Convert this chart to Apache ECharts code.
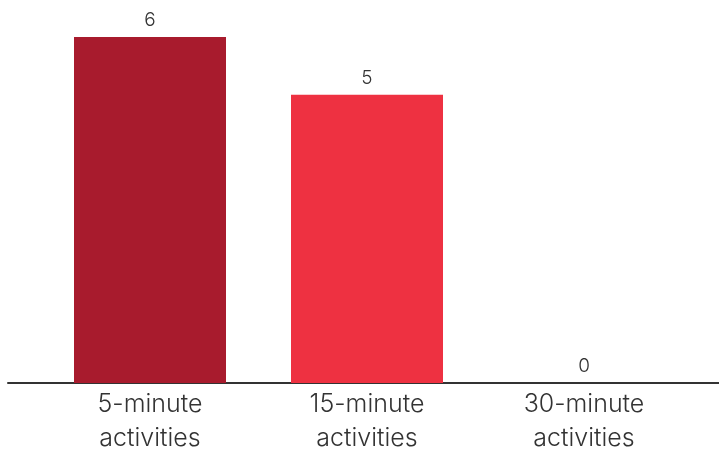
<!DOCTYPE html>
<html>
<head>
<meta charset="utf-8">
<script src="https://cdn.jsdelivr.net/npm/echarts@6/dist/echarts.min.js"></script>
<style>
  html, body { margin: 0; padding: 0; background: #ffffff; }
  #chart { width: 719px; height: 450px; }
</style>
</head>
<body>
<div id="chart"></div>
<script>
// Activity lengths and how many of each were counted
const categories = ['5-minute\nactivities', '15-minute\nactivities', '30-minute\nactivities'];
const counts = [6, 5, 0];
const barColors = ['#a81b2d', '#ee3141', '#ee3141'];

const chart = echarts.init(document.getElementById('chart'));

chart.setOption({
  animation: false,
  grid: [
    { left: 41.5, width: 651, top: 37, bottom: 67, outerBoundsMode: 'none', containLabel: false },
    // full-width baseline under the categories
    { left: 8, right: 0, top: 37, bottom: 67, outerBoundsMode: 'none', containLabel: false }
  ],
  xAxis: [
    {
      type: 'category',
      gridIndex: 0,
      data: categories,
      axisLine: { show: false },
      axisTick: { show: false },
      axisLabel: {
        margin: 4,
        fontFamily: 'Inter, "Noto Sans", sans-serif',
        fontWeight: 300,
        fontSize: 25,
        lineHeight: 34,
        color: '#333333'
      }
    },
    {
      type: 'value',
      gridIndex: 1,
      min: 0,
      max: 1,
      axisLine: { show: true, lineStyle: { color: '#333333', width: 2 } },
      axisTick: { show: false },
      axisLabel: { show: false },
      splitLine: { show: false }
    }
  ],
  yAxis: [
    { type: 'value', gridIndex: 0, min: 0, max: 6, show: false },
    { type: 'value', gridIndex: 1, min: 0, max: 6, show: false }
  ],
  series: [
    {
      type: 'bar',
      xAxisIndex: 0,
      yAxisIndex: 0,
      barWidth: 152,
      data: counts.map((v, i) => ({ value: v, itemStyle: { color: barColors[i] } })),
      label: {
        show: true,
        position: 'top',
        distance: 7,
        fontFamily: 'Inter, "Noto Sans", sans-serif',
        fontWeight: 300,
        fontSize: 19,
        color: '#333333'
      }
    }
  ]
});
</script>
</body>
</html>
